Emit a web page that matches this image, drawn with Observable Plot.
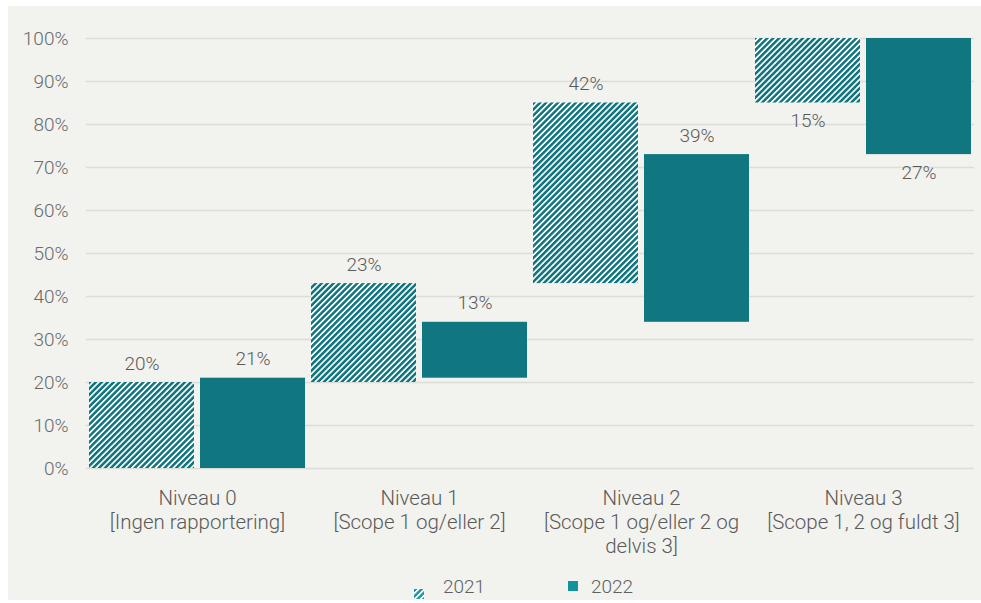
<!DOCTYPE html>
<html>
<head>
<meta charset="utf-8">
<script src="https://cdn.jsdelivr.net/npm/d3@7"></script>
<script src="https://cdn.jsdelivr.net/npm/@observablehq/plot@0.6"></script>
<style>
  html, body { margin: 0; padding: 0; background: #ffffff; }
  body { width: 981px; height: 603px; position: relative; overflow: hidden; font-family: Roboto, "Open Sans", sans-serif; font-weight: 300; }
  #panel { position: absolute; left: 8px; top: 6px; width: 973px; height: 594px; background: #f2f2ee; }
  #chart { position: absolute; left: 0; top: 0; }
  #legend { position: absolute; top: 575px; left: 0; width: 981px; height: 22px; font-size: 19px; color: #5f5f5f; }
  .item { position: absolute; top: 0; display: flex; align-items: center; height: 22px; }
  .sw { width: 10px; height: 10px; margin-right: 19px; }
</style>
</head>
<body>
<div id="panel"></div>
<div id="chart"></div>
<div id="legend"></div>
<script>
// ---- data ----
const categories = [
  "Niveau 0\n[Ingen rapportering]",
  "Niveau 1\n[Scope 1 og/eller 2]",
  "Niveau 2\n[Scope 1 og/eller 2 og\ndelvis 3]",
  "Niveau 3\n[Scope 1, 2 og fuldt 3]"
];
const years = ["2021", "2022"];
const values2021 = [20, 23, 42, 15];
const values2022 = [21, 13, 39, 27];
const yTicks = [0, 10, 20, 30, 40, 50, 60, 70, 80, 90, 100];

// ---- build waterfall table ----
function build(year, values) {
  let acc = 0;
  return values.map((v, i) => {
    const row = {cat: categories[i], year, value: v, y1: acc, y2: acc + v};
    acc += v;
    return row;
  });
}
const data = [...build("2021", values2021), ...build("2022", values2022)];
const above = data.filter(d => d.y2 < 100);
const below = data.filter(d => d.y2 >= 100);

const TEAL = "#10767f";
const TXT = "#5a5a5a";
const FS = 19;
const FSX = 20.5;

const chart = Plot.plot({
  width: 981,
  height: 570,
  marginTop: 38,
  marginBottom: 102,
  marginLeft: 85,
  marginRight: 6,
  style: {background: "transparent", fontSize: FS + "px", fontFamily: "Roboto, 'Open Sans', sans-serif", fontWeight: 300, color: TXT},
  fx: {domain: categories, padding: 0, axis: null},
  x: {domain: years, paddingInner: 0.056, paddingOuter: 0.028, axis: null},
  y: {domain: [0, 100], axis: null},
  marks: [
    Plot.ruleY(yTicks, {stroke: "#dcdcd8", strokeWidth: 1.5}),
    Plot.axisY({ticks: yTicks, tickFormat: d => d + "%", tickSize: 0, tickPadding: 18, label: null, fill: "#6a6a6a", fontSize: FS}),
    Plot.axisFx({anchor: "bottom", domain: categories, tickSize: 0, tickPadding: 19, label: null, lineHeight: 24 / FSX, fill: TXT, fontSize: FSX}),
    Plot.barY(data.filter(d => d.year === "2021"), {fx: "cat", x: "year", y1: "y1", y2: "y2", fill: "url(#hatch2021)"}),
    Plot.barY(data.filter(d => d.year === "2022"), {fx: "cat", x: "year", y1: "y1", y2: "y2", fill: TEAL}),
    Plot.text(above, {fx: "cat", x: "year", y: "y2", text: d => d.value + "%", dy: -19, fill: TXT, fontSize: FS}),
    Plot.text(below, {fx: "cat", x: "year", y: "y1", text: d => d.value + "%", dy: 18, fill: TXT, fontSize: FS})
  ]
});

// hatch pattern definition
const ns = "http://www.w3.org/2000/svg";
const defs = document.createElementNS(ns, "defs");
defs.innerHTML = `
  <pattern id="hatch2021" patternUnits="userSpaceOnUse" width="4.2" height="4.2" patternTransform="rotate(45)">
    <rect width="4.2" height="4.2" fill="#ffffff" shape-rendering="crispEdges"></rect>
    <rect width="2.4" height="4.2" fill="${TEAL}" shape-rendering="crispEdges"></rect>
  </pattern>`;
chart.insertBefore(defs, chart.firstChild);
document.getElementById("chart").appendChild(chart);

// legend
const legend = document.getElementById("legend");
const items = [
  {label: years[0], left: 414, fill: null},
  {label: years[1], left: 568, fill: "#12949f"}
];
items.forEach(it => {
  const div = document.createElement("div");
  div.className = "item";
  div.style.left = it.left + "px";
  const sw = document.createElement("div");
  sw.className = "sw";
  if (it.fill) {
    sw.style.background = it.fill;
    sw.style.marginRight = "13px";
  } else {
    sw.innerHTML = `<svg width="10" height="10"><defs><pattern id="lg" patternUnits="userSpaceOnUse" width="4.2" height="4.2" patternTransform="rotate(45)"><rect width="4.2" height="4.2" fill="#fff" shape-rendering="crispEdges"/><rect width="2.4" height="4.2" fill="#1a9aa6" shape-rendering="crispEdges"/></pattern></defs><rect width="10" height="10" fill="url(#lg)"/></svg>`;
  }
  const t = document.createElement("span");
  t.textContent = it.label;
  div.appendChild(sw);
  div.appendChild(t);
  legend.appendChild(div);
});
</script>
</body>
</html>
